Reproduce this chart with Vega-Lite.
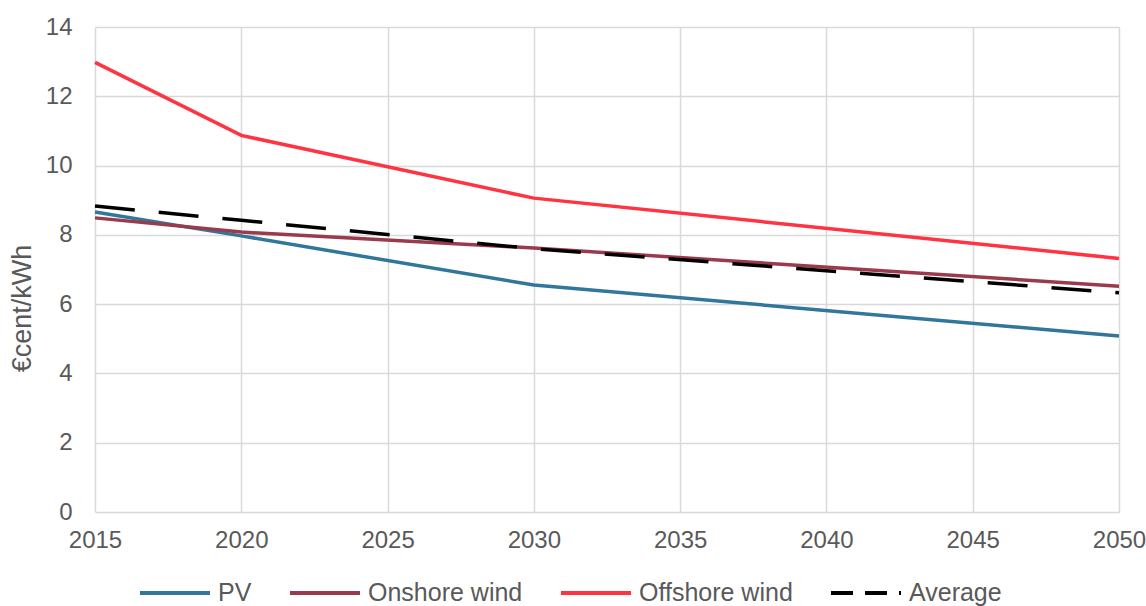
{
  "$schema": "https://vega.github.io/schema/vega-lite/v6.json",
  "width": 1024,
  "height": 485,
  "autosize": {"type": "none"},
  "padding": {"left": 95, "top": 27, "right": 27, "bottom": 94},
  "background": "white",
  "config": {
    "view": {"stroke": null},
    "font": "Liberation Sans",
    "axis": {"labelFont": "Liberation Sans", "titleFont": "Liberation Sans", "labelColor": "#595959", "titleColor": "#595959", "labelFontSize": 24, "titleFontSize": 27, "titleFontWeight": "normal", "gridColor": "#d9d9d9", "gridWidth": 1.5, "domain": false, "ticks": false}
  },
  "data": {
    "values": [
      {"year": 2015, "series": "PV", "value": 8.66},
      {"year": 2020, "series": "PV", "value": 7.97},
      {"year": 2030, "series": "PV", "value": 6.55},
      {"year": 2050, "series": "PV", "value": 5.08},
      {"year": 2015, "series": "Onshore wind", "value": 8.49},
      {"year": 2020, "series": "Onshore wind", "value": 8.08},
      {"year": 2030, "series": "Onshore wind", "value": 7.62},
      {"year": 2050, "series": "Onshore wind", "value": 6.52},
      {"year": 2015, "series": "Offshore wind", "value": 12.98},
      {"year": 2020, "series": "Offshore wind", "value": 10.87},
      {"year": 2030, "series": "Offshore wind", "value": 9.06},
      {"year": 2050, "series": "Offshore wind", "value": 7.32},
      {"year": 2015, "series": "Average", "value": 8.83},
      {"year": 2020, "series": "Average", "value": 8.42},
      {"year": 2030, "series": "Average", "value": 7.6},
      {"year": 2050, "series": "Average", "value": 6.33}
    ]
  },
  "encoding": {
    "x": {
      "field": "year", "type": "quantitative",
      "scale": {"domain": [2015, 2050], "nice": false, "zero": false},
      "axis": {"values": [2015, 2020, 2025, 2030, 2035, 2040, 2045, 2050], "format": "d", "title": null, "labelPadding": 16, "labelFlush": false}
    },
    "y": {
      "field": "value", "type": "quantitative",
      "scale": {"domain": [0, 14], "nice": false},
      "axis": {"values": [0, 2, 4, 6, 8, 10, 12, 14], "title": "€cent/kWh", "labelPadding": 23, "titleAngle": -90, "titleAlign": "center", "titleBaseline": "middle", "titleX": -73, "titleY": 281}
    },
    "color": {
      "field": "series", "type": "nominal",
      "sort": ["PV", "Onshore wind", "Offshore wind", "Average"],
      "scale": {"domain": ["PV", "Onshore wind", "Offshore wind", "Average"], "range": ["#31769B", "#9B3A4D", "#FF3341", "#000000"]},
      "legend": {
        "title": null, "orient": "none", "direction": "horizontal",
        "legendX": 43, "legendY": 529, "padding": 0,
        "symbolType": "stroke", "symbolSize": 4900, "symbolStrokeWidth": 4,
        "labelFontSize": 25, "labelColor": "#595959", "labelFont": "Liberation Sans",
        "labelOffset": 6, "columnPadding": 30,
        "encode": {"symbols": {"update": {"strokeDash": {"signal": "datum.value === 'Average' ? [22, 12] : [1, 0]"}}}}
      }
    },
    "order": {"field": "year", "type": "quantitative"}
  },
  "layer": [
    {
      "transform": [{"filter": "datum.series !== 'Average'"}],
      "mark": {"type": "line", "strokeWidth": 3.5}
    },
    {
      "transform": [{"filter": "datum.series === 'Average'"}],
      "mark": {"type": "line", "strokeWidth": 3.5, "strokeDash": [40, 24]}
    }
  ]
}
